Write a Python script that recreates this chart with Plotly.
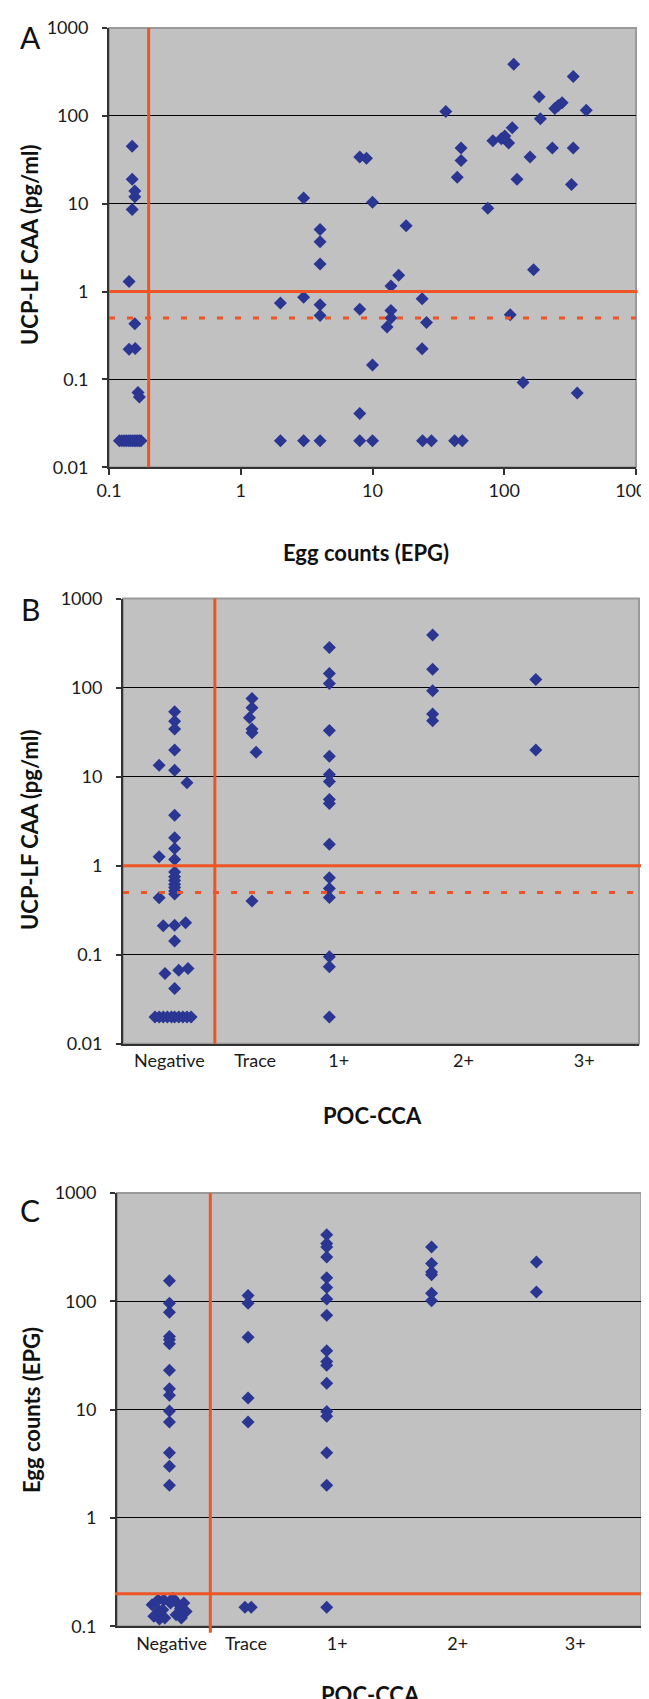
import plotly.graph_objects as go

W, H = 649, 1699

# ---------------- Panel A: UCP-LF CAA vs egg counts ----------------
a_epg = [
    0.150, 0.150, 0.157, 0.157, 0.150, 0.142, 0.157, 0.142, 0.158, 0.166, 0.170,
    0.120, 0.125, 0.130, 0.135, 0.140, 0.145, 0.150, 0.155, 0.160, 0.165, 0.170, 0.175,
    3, 4, 4, 8, 9, 10, 18, 36, 47, 47, 44, 75, 82, 95, 101, 108, 115, 118, 125, 157,
    184, 188, 232, 242, 257, 275, 334, 334, 324, 419,
    4, 167, 15.8, 13.8, 2, 3, 4, 4, 8, 13.8, 13.8, 12.9, 23.8, 25.7, 23.8, 10, 111,
    139, 358, 8,
    2, 3, 4, 8, 10, 24, 28, 42, 48,
]
a_caa = [
    45, 19, 14, 12, 8.6, 1.3, 0.43, 0.22, 0.225, 0.071, 0.063,
    0.02, 0.02, 0.02, 0.02, 0.02, 0.02, 0.02, 0.02, 0.02, 0.02, 0.02, 0.02,
    11.6, 5.1, 3.7, 34, 33, 10.4, 5.6, 112, 43, 31, 20, 8.9, 52, 55, 59, 49, 73, 386, 19, 34,
    165, 93, 43, 121, 131, 141, 281, 43, 16.5, 116,
    2.06, 1.77, 1.53, 1.16, 0.74, 0.86, 0.71, 0.535, 0.63, 0.61, 0.50, 0.394, 0.83, 0.445, 0.223, 0.146, 0.544,
    0.092, 0.070, 0.041,
    0.02, 0.02, 0.02, 0.02, 0.02, 0.02, 0.02, 0.02, 0.02,
]

# ---------------- Panel B: UCP-LF CAA by POC-CCA ----------------
poc_categories = ["Negative", "Trace", "1+", "2+", "3+"]

b_negative = [53.6, 42, 34.2, 19.9, 13.4, 11.8, 8.54, 3.69, 2.06, 1.56, 1.26, 1.17,
              0.85, 0.75, 0.68, 0.62, 0.57, 0.52, 0.48, 0.436, 0.211, 0.214, 0.228,
              0.142, 0.0615, 0.067, 0.070, 0.0417,
              0.02, 0.02, 0.02, 0.02, 0.02, 0.02, 0.02, 0.02, 0.02, 0.02]
b_negative_jitter = [0, 0, 0, 0, -0.15, 0, 0.12, 0, 0, 0, -0.15, 0,
                     0, 0, 0, 0, 0, 0, 0, -0.15, -0.11, 0, 0.107,
                     0, -0.093, 0.04, 0.13, 0,
                     -0.19, -0.15, -0.11, -0.07, -0.03, 0.0, 0.04, 0.08, 0.12, 0.16]
b_trace = [75.6, 59.4, 45.9, 34.2, 31.1, 18.8, 0.40]
b_trace_jitter = [0, 0, -0.025, 0, 0, 0.04, 0]
b_plus1 = [283, 144, 111, 33, 16.9, 10.6, 8.83, 5.54, 5.0, 1.74, 0.73, 0.554, 0.44,
           0.0947, 0.073, 0.02]
b_plus2 = [389, 161, 92.3, 50.4, 42.5]
b_plus3 = [123, 19.9]

# ---------------- Panel C: egg counts by POC-CCA ----------------
c_negative = [155, 96, 79.3, 47.3, 44.2, 40.6, 23.1, 15.6, 13.6, 9.7, 7.7, 4, 3, 2,
              0.158, 0.124, 0.175, 0.139, 0.117, 0.175, 0.142, 0.119, 0.182, 0.164,
              0.128, 0.119, 0.164, 0.137, 0.145, 0.164]
c_negative_jitter = [0, 0, 0, 0, 0, 0, 0, 0, 0, 0, 0, 0, 0, 0,
                     -0.165, -0.149, -0.108, -0.102, -0.095, -0.054, -0.064, -0.044,
                     0.032, 0.073, 0.064, 0.114, 0.137, 0.159, 0.105, 0.01]
c_trace = [113, 96, 46.7, 12.8, 7.7, 0.15, 0.15]
c_trace_jitter = [0, 0, 0, 0, 0, -0.03, 0.03]
c_plus1 = [412, 341, 317, 257, 165, 134, 105, 74.4, 35, 27.9, 25.7, 17.5, 9.6, 8.7,
           4, 2, 0.15]
c_plus2 = [317, 224, 187, 176, 119, 101]
c_plus3 = [231, 122]

# Cut-off values drawn as reference lines
CAA_CUTOFF = 1.0
CAA_CUTOFF_LOW = 0.5
EPG_CUTOFF = 0.2
POC_CUTOFF = 0.89  # between "Negative" and "Trace"

# Axis tick labels
caa_ticks = [0.01, 0.1, 1, 10, 100, 1000]
caa_ticktext = ["0.01", "0.1", "1", "10", "100", "1000"]
epg_x_ticks = [0.1, 1, 10, 100, 1000]
epg_x_ticktext = ["0.1", "1", "10", "100", "1000"]
epg_y_ticks = [0.1, 1, 10, 100, 1000]
epg_y_ticktext = ["0.1", "1", "10", "100", "1000"]

# ---------------- Styling / layout constants ----------------
CAT_POS = {"Negative": 0.5, "Trace": 1.25, "1+": 2.0, "2+": 3.0, "3+": 4.0}
B_LABEL_POS = [0.45, 1.28, 2.09, 3.30, 4.47]
C_LABEL_POS = [0.52, 1.23, 2.10, 3.25, 4.37]

MARKER = dict(symbol="diamond", size=10, color="#2A3692", line=dict(width=0))
RED = "#EE5424"
BG = "#C0C1C0"
FONT = "Lato"


def xdom(l, r):
    return [l / W, r / W]


def ydom(t, b):
    return [1 - b / H, 1 - t / H]


def cat_points(cat, values, jitter=None):
    if jitter is None:
        jitter = [0] * len(values)
    return [CAT_POS[cat] + j for j in jitter], values


fig = go.Figure()

fig.add_trace(go.Scatter(x=a_epg, y=a_caa, mode="markers", marker=MARKER,
                         xaxis="x", yaxis="y", showlegend=False))

b_sets = [("Negative", b_negative, b_negative_jitter), ("Trace", b_trace, b_trace_jitter),
          ("1+", b_plus1, None), ("2+", b_plus2, None), ("3+", b_plus3, None)]
for cat, vals, jit in b_sets:
    xs, ys = cat_points(cat, vals, jit)
    fig.add_trace(go.Scatter(x=xs, y=ys, mode="markers", marker=MARKER,
                             xaxis="x2", yaxis="y2", showlegend=False))

c_sets = [("Negative", c_negative, c_negative_jitter), ("Trace", c_trace, c_trace_jitter),
          ("1+", c_plus1, None), ("2+", c_plus2, None), ("3+", c_plus3, None)]
for cat, vals, jit in c_sets:
    xs, ys = cat_points(cat, vals, jit)
    fig.add_trace(go.Scatter(x=xs, y=ys, mode="markers", marker=MARKER,
                             xaxis="x3", yaxis="y3", showlegend=False))

tickfont = dict(family=FONT, size=18, color="#1a1a1a")
axis_line = dict(showline=True, linecolor="#333333", linewidth=2, automargin=False)

ycommon = dict(type="log", showgrid=True, gridcolor="#000000", gridwidth=1,
               ticks="outside", ticklen=5, tickwidth=1.5, tickcolor="#333333",
               tickfont=tickfont, ticklabelstandoff=10, zeroline=False, **axis_line)

layout = dict(
    width=W, height=H, margin=dict(l=0, r=0, t=0, b=0, autoexpand=False),
    paper_bgcolor="white", plot_bgcolor=BG, showlegend=False,
    xaxis=dict(domain=xdom(101, 628), anchor="y", type="log", range=[-1, 3],
               tickvals=epg_x_ticks, ticktext=epg_x_ticktext, showgrid=False,
               ticks="outside", ticklen=6, tickwidth=1.5, tickcolor="#333333",
               tickfont=tickfont, ticklabelstandoff=0, zeroline=False, **axis_line),
    yaxis=dict(domain=ydom(20, 459.3), anchor="x", range=[-2, 3],
               tickvals=caa_ticks, ticktext=caa_ticktext, **ycommon),
    xaxis2=dict(domain=xdom(115, 631), anchor="y2", range=[0, 5], showgrid=False,
                tickvals=B_LABEL_POS, ticktext=poc_categories, ticks="",
                tickfont=tickfont, ticklabelstandoff=0, zeroline=False, **axis_line),
    yaxis2=dict(domain=ydom(590.6, 1035.7), anchor="x2", range=[-2, 3],
                tickvals=caa_ticks, ticktext=caa_ticktext, **ycommon),
    xaxis3=dict(domain=xdom(109, 633.3), anchor="y3", range=[0, 5], showgrid=False,
                tickvals=C_LABEL_POS, ticktext=poc_categories, ticks="",
                tickfont=tickfont, ticklabelstandoff=0, zeroline=False, **axis_line),
    yaxis3=dict(domain=ydom(1185, 1618.3), anchor="x3", range=[-1, 3],
                tickvals=epg_y_ticks, ticktext=epg_y_ticktext, **ycommon),
)
fig.update_layout(**layout)

solid = dict(color=RED, width=3)
dashed = dict(color=RED, width=3, dash="6px,12px")

shapes = []
for xr, yr in [("x", "y"), ("x2", "y2"), ("x3", "y3")]:
    shapes.append(dict(type="rect", xref=f"{xr} domain", yref=f"{yr} domain",
                       x0=0, x1=1, y0=0, y1=1, line=dict(color="#9A9A9A", width=2),
                       layer="below"))
shapes += [
    # Panel A
    dict(type="line", xref="x", yref="y domain", x0=EPG_CUTOFF, x1=EPG_CUTOFF,
         y0=0, y1=1, line=solid, layer="above"),
    dict(type="line", xref="x domain", yref="y", x0=0, x1=1.003,
         y0=CAA_CUTOFF, y1=CAA_CUTOFF, line=solid, layer="above"),
    dict(type="line", xref="x domain", yref="y", x0=0, x1=1.0,
         y0=CAA_CUTOFF_LOW, y1=CAA_CUTOFF_LOW, line=dashed, layer="above"),
    # Panel B
    dict(type="line", xref="x2", yref="y2 domain", x0=POC_CUTOFF, x1=POC_CUTOFF,
         y0=0, y1=1, line=solid, layer="above"),
    dict(type="line", xref="x2 domain", yref="y2", x0=0, x1=1.017,
         y0=CAA_CUTOFF, y1=CAA_CUTOFF, line=solid, layer="above"),
    dict(type="line", xref="x2 domain", yref="y2", x0=0, x1=1.01,
         y0=CAA_CUTOFF_LOW, y1=CAA_CUTOFF_LOW, line=dashed, layer="above"),
    # Panel C
    dict(type="line", xref="x3", yref="y3 domain", x0=POC_CUTOFF, x1=POC_CUTOFF,
         y0=-0.015, y1=1, line=solid, layer="above"),
    dict(type="line", xref="x3 domain", yref="y3", x0=-0.004, x1=1.017,
         y0=EPG_CUTOFF, y1=EPG_CUTOFF, line=solid, layer="above"),
]
fig.update_layout(shapes=shapes)

title_font = dict(family=FONT, size=22, color="#111111", weight="bold")
letter_font = dict(family=FONT, size=30, color="#111111")


def ann(text, px, py, font, angle=0):
    return dict(text=text, xref="paper", yref="paper", x=px / W, y=1 - py / H,
                xanchor="center", yanchor="middle", showarrow=False, font=font,
                textangle=angle)


annotations = [
    ann("A", 22, 29, letter_font),
    ann("B", 22, 601, letter_font),
    ann("C", 22, 1202, letter_font),
    ann("UCP-LF CAA (pg/ml)", 22, 237, title_font, -90),
    ann("UCP-LF CAA (pg/ml)", 22, 822, title_font, -90),
    ann("Egg counts (EPG)", 23, 1402, title_font, -90),
    ann("Egg counts (EPG)", 358, 544, title_font),
    ann("POC-CCA", 364, 1107, title_font),
    ann("POC-CCA", 363, 1686, title_font),
]
fig.update_layout(annotations=annotations)

fig.write_html("out.html")
